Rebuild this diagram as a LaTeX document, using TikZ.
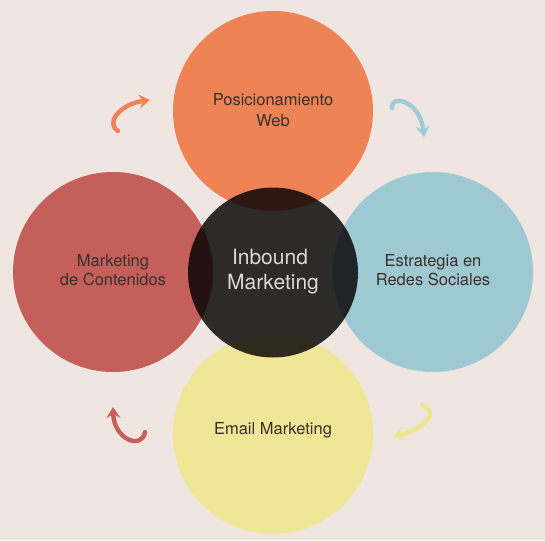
\documentclass[tikz,border=0pt]{standalone}
\usepackage{fontspec}
\setmainfont{TeX Gyre Heros}
\usetikzlibrary{arrows.meta}
\definecolor{bg}{HTML}{EFE5E1}
\definecolor{corange}{HTML}{EE8356}
\definecolor{cred}{HTML}{C45F5B}
\definecolor{cblue}{HTML}{9FC9D2}
\definecolor{cyellow}{HTML}{EFE697}
\definecolor{aorange}{HTML}{EF8256}
\definecolor{ablue}{HTML}{9DCBD6}
\definecolor{ayellow}{HTML}{EEE58E}
\definecolor{ared}{HTML}{C95F5B}
\definecolor{txt}{HTML}{3A302C}
\definecolor{ctxt}{HTML}{D8D8D8}
\begin{document}
\begin{tikzpicture}[x=1pt,y=-1pt,
  circ/.style={circle, minimum size=200pt, inner sep=0pt, draw=none},
  core/.style={circle, minimum size=170pt, inner sep=0pt, draw=none, fill=black, fill opacity=0.81},
  lbl/.style={inner sep=0pt, anchor=base, text=txt, font=\fontsize{16.5}{20}\selectfont},
  clbl/.style={inner sep=0pt, anchor=base, text=ctxt, font=\fontsize{21}{26}\selectfont},
  arr/.style={line width=4.4pt, line cap=round, -{Stealth[length=11pt,width=14pt,inset=4pt]}}]
\fill[bg] (0,0) rectangle (545,540);
\useasboundingbox (0,0) rectangle (545,540);
% circles
\node[circ, fill=corange] (web) at (273,111) {};
\node[circ, fill=cred] (cont) at (113,272) {};
\node[circ, fill=cblue] (redes) at (433,272) {};
\node[circ, fill=cyellow] (email) at (273,434) {};
\node[core] (inbound) at (273,272.5) {};
% labels
\node[lbl] (web1) at (273,105.5) {Posicionamiento};
\node[lbl] (web2) at (273,126.5) {Web};
\node[lbl] (cont1) at (113,266) {Marketing};
\node[lbl] (cont2) at (113,285.5) {de Contenidos};
\node[lbl] (redes1) at (433,266) {Estrategia en};
\node[lbl] (redes2) at (433,285.5) {Redes Sociales};
\node[lbl] (email1) at (273,434.5) {Email Marketing};
\node[clbl] (in1) at (270,264) {Inbound};
\node[clbl] (in2) at (273,289.5) {Marketing};
% arrows
\coordinate (o1) at (118,131); \coordinate (o2) at (150,100);
\coordinate (b1) at (392,108); \coordinate (b2) at (424,137);
\coordinate (y1) at (422,405); \coordinate (y2) at (393,437);
\coordinate (r1) at (145,432); \coordinate (r2) at (113,407);
\draw[arr, draw=aorange] (o1) .. controls (105,123) and (120,104) .. (o2);
\draw[arr, draw=ablue] (b1) .. controls (390,94) and (420,100) .. (b2);
\draw[arr, draw=ayellow] (y1) .. controls (440,412) and (425,428) .. (y2);
\draw[arr, draw=ared] (r1) .. controls (142,450) and (114,440) .. (r2);
\end{tikzpicture}
\end{document}
